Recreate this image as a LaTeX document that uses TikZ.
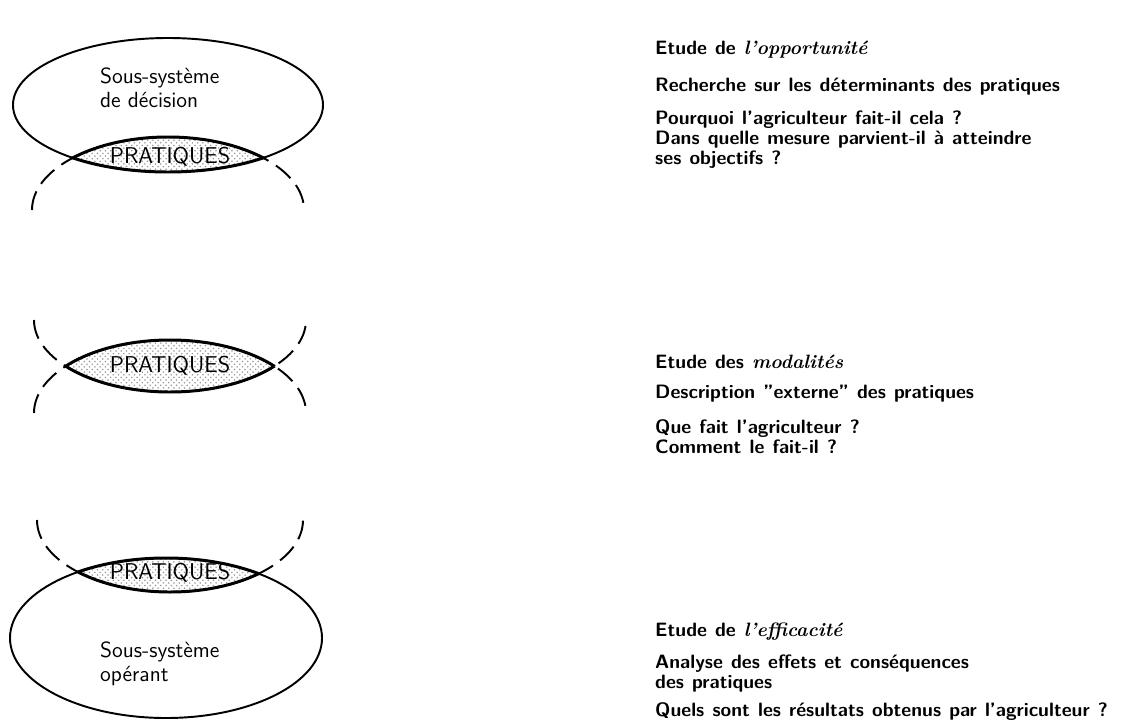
\documentclass[tikz,border=0pt]{standalone}
\usepackage{fontspec}
\usetikzlibrary{patterns}
\newcommand\txtfont{\sffamily\bfseries\fontsize{11}{11.4}\selectfont\spaceskip=0.42em plus 0.1em\relax}

\begin{document}
\begin{tikzpicture}[
    x=0.02cm, y=-0.02cm,
    solidell/.style={line width=1.1pt},
    dashell/.style={line width=1.1pt, dash pattern=on 11pt off 5pt},
    lensline/.style={line width=1.7pt},
    lensfill/.style={pattern=crosshatch dots, pattern color=black!40},
    lenslabel/.style={font=\sffamily\fontsize{13}{15}\selectfont, inner sep=1pt},
    syslabel/.style={font=\sffamily\fontsize{12.5}{13.6}\selectfont, align=left, anchor=west},
    headtxt/.style={font=\txtfont, anchor=west},
    bodytxt/.style={font=\txtfont, align=left, anchor=west},
]
\useasboundingbox (0,0) rectangle (1138,720);

% ---- decision (top)
\draw[solidell] (168,105) ellipse [x radius=155, y radius=67];
\draw[dashell] (32,210) arc [start angle=180, end angle=360, x radius=136, y radius=73];
\begin{scope}
  \clip (168,105) ellipse [x radius=155, y radius=67];
  \fill[lensfill] (168,210) ellipse [x radius=136, y radius=73];
  \draw[lensline] (168,210) ellipse [x radius=136, y radius=73];
\end{scope}
\begin{scope}
  \clip (168,210) ellipse [x radius=136, y radius=73];
  \draw[lensline] (168,105) ellipse [x radius=155, y radius=67];
\end{scope}
\node[lenslabel] (prat1) at (170,157) {PRATIQUES};
\node[syslabel] (decision) at (94,88) {Sous-système\\de décision};

% ---- modalites (middle)
\draw[dashell] (34,320) arc [start angle=180, end angle=0, x radius=136, y radius=72];
\draw[dashell] (34,413) arc [start angle=180, end angle=360, x radius=136, y radius=73];
\begin{scope}
  \clip (170,320) ellipse [x radius=136, y radius=72];
  \fill[lensfill] (170,413) ellipse [x radius=136, y radius=73];
  \draw[lensline] (170,413) ellipse [x radius=136, y radius=73];
\end{scope}
\begin{scope}
  \clip (170,413) ellipse [x radius=136, y radius=73];
  \draw[lensline] (170,320) ellipse [x radius=136, y radius=72];
\end{scope}
\node[lenslabel] (prat2) at (170,366) {PRATIQUES};

% ---- operant (bottom)
\draw[solidell] (166,638) ellipse [x radius=156, y radius=80];
\draw[dashell] (37,520) arc [start angle=180, end angle=0, x radius=133, y radius=72];
\begin{scope}
  \clip (166,638) ellipse [x radius=156, y radius=80];
  \fill[lensfill] (170,520) ellipse [x radius=133, y radius=72];
  \draw[lensline] (170,520) ellipse [x radius=133, y radius=72];
\end{scope}
\begin{scope}
  \clip (170,520) ellipse [x radius=133, y radius=72];
  \draw[lensline] (166,638) ellipse [x radius=156, y radius=80];
\end{scope}
\node[lenslabel] (prat3) at (170,573) {PRATIQUES};
\node[syslabel] (operant) at (94,664) {Sous-système\\opérant};

% ---- texts on the right
\node[headtxt] (opp) at (649,50) {Etude de \textrm{\textit{l'opportunité}}};
\node[bodytxt] (oppa) at (649,87) {Recherche sur les déterminants des pratiques};
\node[bodytxt] (oppb) at (649,140) {Pourquoi l'agriculteur fait-il cela ?\\Dans quelle mesure parvient-il à atteindre\\ses objectifs ?};

\node[headtxt] (mod) at (649,362) {Etude des \textrm{\textit{modalités}}};
\node[bodytxt] (moda) at (649,394) {Description ''externe'' des pratiques};
\node[bodytxt] (modb) at (649,437) {Que fait l'agriculteur ?\\Comment le fait-il ?};

\node[headtxt] (eff) at (649,632) {Etude de \textrm{\textit{l'efficacité}}};
\node[bodytxt] (effa) at (649,674) {Analyse des effets et conséquences\\des pratiques};
\node[bodytxt] (effb) at (649,712) {Quels sont les résultats obtenus par l'agriculteur ?};
\end{tikzpicture}
\end{document}
